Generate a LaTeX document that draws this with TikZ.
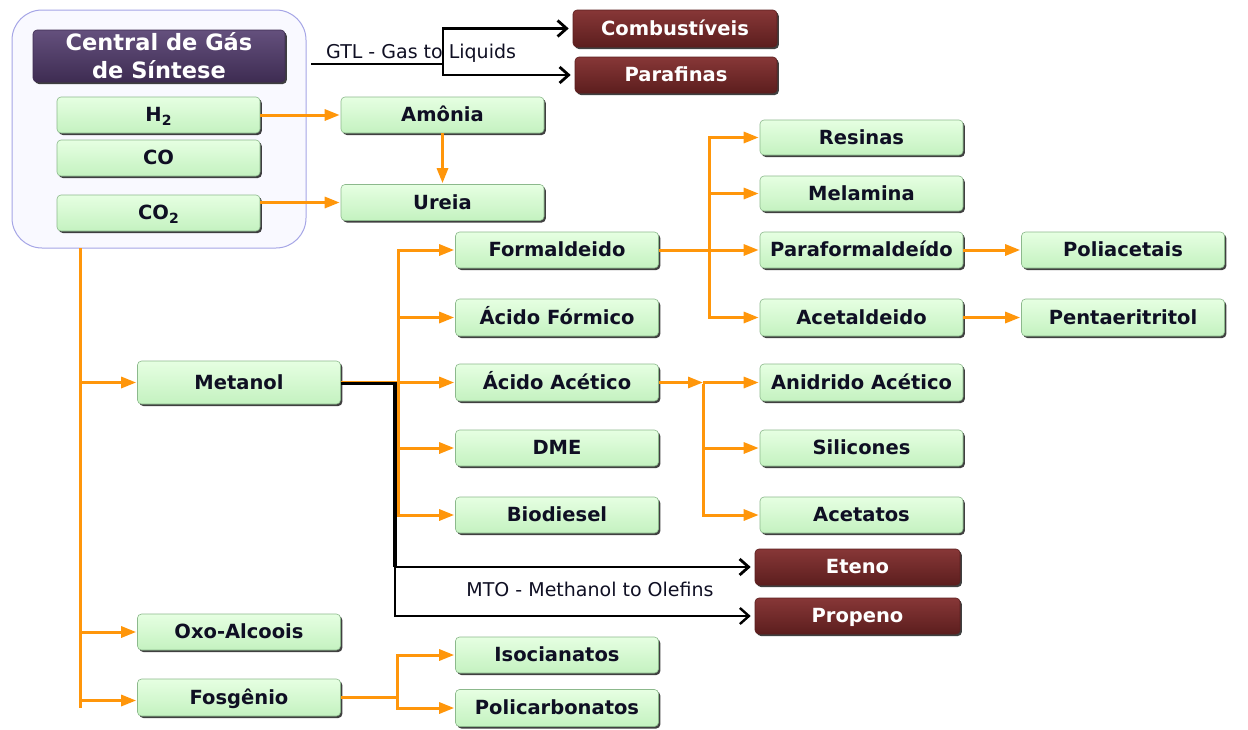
\documentclass[tikz,border=0pt]{standalone}
\usepackage{fontspec}
\setmainfont{DejaVu Sans}
\usetikzlibrary{arrows.meta,shadows,calc}
\definecolor{gtop}{RGB}{230,255,226}
\definecolor{gbot}{RGB}{196,242,192}
\definecolor{gedge}{RGB}{140,185,140}
\definecolor{rtop}{RGB}{135,55,55}
\definecolor{rbot}{RGB}{92,30,30}
\definecolor{ptop}{RGB}{100,80,125}
\definecolor{pbot}{RGB}{62,44,82}
\definecolor{orng}{RGB}{255,150,10}
\definecolor{txt}{RGB}{15,15,35}
\definecolor{lav}{RGB}{249,249,255}
\definecolor{lavedge}{RGB}{165,165,230}
\tikzset{
  basebox/.style={rectangle, rounded corners=4pt, minimum width=203, minimum height=36, inner sep=0pt,
    drop shadow={shadow xshift=1.8pt, shadow yshift=-2pt, fill=black, opacity=0.75},
    font=\bfseries\fontsize{19.5}{19.5}\selectfont, text height=13pt, text depth=0pt},
  gbox/.style={basebox, top color=gtop, bottom color=gbot, draw=gedge, line width=0.6pt, text=txt},
  rbox/.style={basebox, top color=rtop, bottom color=rbot, draw=rbot, line width=0.6pt, text=white},
  pbox/.style={basebox, top color=ptop, bottom color=pbot, draw=pbot, line width=0.6pt, text=white},
  oline/.style={draw=orng, line width=3pt},
  oar/.style={oline, -{Triangle[length=15pt,width=11pt]}, shorten >=1pt},
  bline/.style={draw=black, line width=2.8pt},
  bar/.style={bline, -{Straight Barb[length=9pt,width=16pt]}, shorten >=4pt},
  lbl/.style={font=\fontsize{19}{19}\selectfont, text=txt, inner sep=0pt},
}
\begin{document}
\begin{tikzpicture}[x=1pt,y=-1pt]
\useasboundingbox (0,0) rectangle (1248,729);
% outer group
\node[rectangle, rounded corners=30pt, draw=lavedge, fill=lav, line width=1pt, minimum width=294, minimum height=238] (outer) at (159,129) {};
\node[pbox, minimum width=252, minimum height=52, align=center, text height=, text depth=, font=\bfseries\fontsize{22.5}{28}\selectfont] (central) at (159,56) {Central de Gás\\de Síntese};
\node[gbox] (h2) at (158.5,115) {H\raisebox{-3.5pt}{\fontsize{14}{14}\selectfont 2}};
\node[gbox] (co) at (158.5,158) {CO};
\node[gbox] (co2) at (158.5,213) {CO\raisebox{-3.5pt}{\fontsize{14}{14}\selectfont 2}};
% GTL
\node[rbox, minimum width=204, minimum height=37] (comb) at (675,28.5) {Combustíveis};
\node[rbox, minimum width=202] (paraf) at (676,75) {Parafinas};
% ammonia / urea
\node[gbox] (amonia) at (442.5,115) {Amônia};
\node[gbox] (ureia) at (442.5,202.5) {Ureia};
% left column
\node[gbox, minimum height=43] (metanol) at (239,382.5) {Metanol};
\node[gbox] (oxo) at (239,632) {Oxo-Alcoois};
\node[gbox, minimum height=37] (fosg) at (239,697.5) {Fosgênio};
% fosgenio products
\node[gbox] (isoc) at (557,655) {Isocianatos};
\node[gbox, minimum height=37] (poli) at (557,708) {Policarbonatos};
% methanol products
\node[gbox] (formal) at (557,250) {Formaldeido};
\node[gbox, minimum height=37] (afor) at (557,317.5) {Ácido Fórmico};
\node[gbox, minimum height=37] (aace) at (557,382.5) {Ácido Acético};
\node[gbox] (dme) at (557,448) {DME};
\node[gbox] (bio) at (557,515) {Biodiesel};
% formaldehyde products
\node[gbox, minimum height=35] (resinas) at (861.5,137.5) {Resinas};
\node[gbox, minimum height=35] (melamina) at (861.5,193.5) {Melamina};
\node[gbox] (parafor) at (861.5,250) {Paraformaldeído};
\node[gbox, minimum height=37] (acetal) at (861.5,317.5) {Acetaldeido};
\node[gbox] (poliacet) at (1123,250) {Poliacetais};
\node[gbox, minimum height=37] (pentae) at (1123,317.5) {Pentaeritritol};
% acetic acid products
\node[gbox, minimum height=37] (anid) at (861.5,382.5) {Anidrido Acético};
\node[gbox] (silic) at (861.5,448) {Silicones};
\node[gbox] (acetatos) at (861.5,515) {Acetatos};
% olefins
\node[rbox, minimum width=205] (eteno) at (857.5,567) {Eteno};
\node[rbox, minimum width=205] (propeno) at (857.5,616) {Propeno};

% ---- connectors
% GTL
\coordinate (gtl) at (443,64);
\coordinate (gtls) at (311,64);
\draw[bline] (gtls) -- (gtl);
\draw[bar] (gtl) |- (comb.west);
\draw[bar] (gtl) |- (paraf.west);
\node[lbl, anchor=base west] (gtllbl) at (326,58) {GTL - Gas to Liquids};
% H2, CO2
\draw[oar] (h2.east) -- (amonia.west);
\draw[oar] (co2.east |- ureia.west) -- (ureia.west);
\draw[oar] (amonia.south) -- (ureia.north);
% trunk
\coordinate (ttop) at (80,248);
\coordinate (tbot) at (80,708);
\draw[oline] (ttop) -- (tbot);
\draw[oar] (ttop |- metanol.west) -- (metanol.west);
\draw[oar] (ttop |- oxo.west) -- (oxo.west);
\draw[oar] ([yshift=-3pt]ttop |- fosg.west) -- ([yshift=-3pt]fosg.west);
% fosgenio
\coordinate (fj) at (397,697.5);
\draw[oline] (fosg.east) -- (fj);
\draw[oar] (fj) |- (isoc.west);
\draw[oar] (fj) |- (poli.west);
% metanol orange branch
\coordinate (mj) at (398,382.5);
\draw[oline] (metanol.east) -- (mj);
\draw[oar] (mj) |- (formal.west);
\draw[oar] (mj) |- (afor.west);
\draw[oar] (mj) -- (aace.west);
\draw[oar] (mj) |- (dme.west);
\draw[oar] (mj) |- (bio.west);
% MTO black
\coordinate (mto) at (395,567);
\draw[bline, line width=3.4pt] ([yshift=-1pt]metanol.east) -| (mto);
\draw[bar] (mto) -- (eteno.west);
\draw[bar, line width=2.4pt] (mto) |- (propeno.west);
\node[lbl, anchor=base] (mtolbl) at (590,596) {MTO - Methanol to Olefins};
% formaldehyde branch
\coordinate (fj2) at (709,250);
\draw[oline] (formal.east) -- (fj2);
\draw[oar] (fj2) |- (resinas.west);
\draw[oar] (fj2) |- (melamina.west);
\draw[oar] (fj2) -- (parafor.west);
\draw[oar] (fj2) |- (acetal.west);
\draw[oar] (parafor.east) -- (poliacet.west);
\draw[oar] (acetal.east) -- (pentae.west);
% acetic acid branch
\coordinate (aj) at (703,382.5);
\draw[oar, shorten >=0pt] (aace.east) -- (aj);
\draw[oar] (aj) -- (anid.west);
\draw[oar] ([yshift=-1.5pt]aj) |- (silic.west);
\draw[oar] ([yshift=-1.5pt]aj) |- (acetatos.west);
\end{tikzpicture}
\end{document}
